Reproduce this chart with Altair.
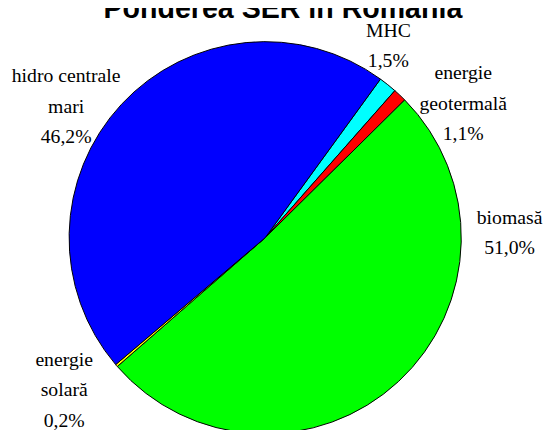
import math
import altair as alt
import pandas as pd

# ---- data ----
categories = ["MHC", "energie geotermală", "biomasă", "energie solară", "hidro centrale mari"]
values = [1.5, 1.1, 51.0, 0.2, 46.2]
colors = ["#00FFFF", "#FF0000", "#00FF00", "#FFFF00", "#0000FF"]
label_texts = [
    "MHC\n1,5%",
    "energie\ngeotermală\n1,1%",
    "biomasă\n51,0%",
    "energie\nsolară\n0,2%",
    "hidro centrale\nmari\n46,2%",
]
title_text = "Ponderea SER în România"

# ---- layout (label anchors = first-line centre in pixels, pie geometry) ----
label_x = [386, 462, 509, 57, 59]
label_y = [20, 63, 210, 354, 66]
CX, CY, R = 261, 230, 199
START = math.radians(36.0)

df = pd.DataFrame({"cat": categories, "val": values, "ord": list(range(len(values)))})
lab = pd.DataFrame({"label": label_texts, "lx": label_x, "ly": label_y})

pie = alt.Chart(df).mark_arc(outerRadius=R, stroke="black", strokeWidth=1).encode(
    theta=alt.Theta("val:Q", stack=True, scale=alt.Scale(range=[START, START + 2 * math.pi])),
    color=alt.Color("cat:N", scale=alt.Scale(domain=categories, range=colors), legend=None),
    order=alt.Order("ord:Q"),
    x=alt.value(CX),
    y=alt.value(CY),
)

labels = alt.Chart(lab).mark_text(
    font="Liberation Serif", fontSize=20, lineHeight=31, align="center",
    baseline="middle", lineBreak="\n", color="black",
).encode(
    x=alt.X("lx:Q", scale=None, axis=None),
    y=alt.Y("ly:Q", scale=None, axis=None),
    text="label:N",
)

title = alt.Chart(pd.DataFrame({"t": [title_text]})).mark_text(
    font="Liberation Sans", fontWeight="bold", fontSize=29, align="center",
    baseline="alphabetic", color="black",
).encode(x=alt.value(279), y=alt.value(7), text="t:N")

chart = alt.layer(pie, labels, title).properties(
    width=547, height=422, padding=0, autosize="none"
).configure_view(stroke=None)

chart.save("out.html", embed_options={"renderer": "svg", "actions": False})
